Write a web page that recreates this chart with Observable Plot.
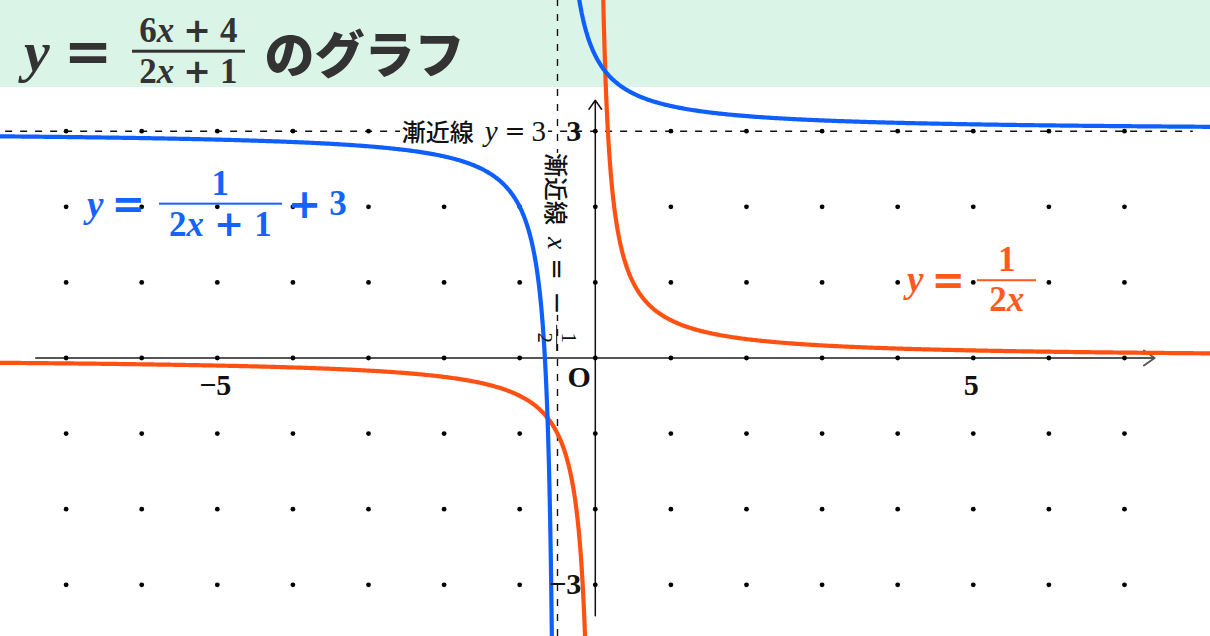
<!DOCTYPE html>
<html>
<head>
<meta charset="utf-8">
<script src="https://cdn.jsdelivr.net/npm/d3@7"></script>
<script src="https://cdn.jsdelivr.net/npm/@observablehq/plot@0.6"></script>
<style>
  html, body { margin: 0; padding: 0; background: #fff; }
  #wrap { position: relative; width: 1210px; height: 636px; overflow: hidden; }
  #band { position: absolute; left: 0; top: 0; width: 1210px; height: 87px; background: #dbf4e8; }
  #chart { position: absolute; left: 0; top: 0; }
  .lbl { position: absolute; display: flex; align-items: center; white-space: nowrap; }
  .m { font-family: "Liberation Serif", "DejaVu Serif", serif; font-weight: bold; }
  .it { font-style: italic; }
  .op { font-family: "DejaVu Sans", sans-serif; }
  .frac { display: inline-flex; flex-direction: column; text-align: center; }
  .frac > span { padding: 0 5px; line-height: 1.08; }
  .frac > .num { border-bottom: 2.6px solid currentColor; }
  .jp { font-family: "Noto Sans CJK JP", "Noto Sans", sans-serif; }
  .bg { background: #fff; }
</style>
</head>
<body>
<div id="wrap">
  <div id="band"></div>
  <div id="chart"></div>

  <div class="lbl m" id="title" style="left:24px; top:51px; transform:translateY(-50%); color:#333;">
    <span class="it" style="font-size:58px;">y</span>
    <span class="op" style="font-size:58px; margin:0 20px 0 14px;">=</span>
    <span class="frac" style="font-size:35px;"><span class="num" style="border-bottom-width:3px; padding:0 7px;">6<i>x</i><span class="op" style="font-size:33px; margin:0 9px;">+</span>4</span><span class="den" style="padding:0 7px;">2<i>x</i><span class="op" style="font-size:33px; margin:0 9px;">+</span>1</span></span>
    <span class="jp" style="font-size:50px; font-weight:900; margin-left:20px;">のグラフ</span>
  </div>

  <div class="lbl m" id="blueLbl" style="left:87px; top:204px; transform:translateY(-50%); color:#1463ff;">
    <span class="it" style="font-size:37px;">y</span>
    <span class="op" style="font-size:40px; margin:0 14px 0 8px;">=</span>
    <span class="frac" style="font-size:35px;"><span class="num">1</span><span class="den" style="padding:0 10px;">2<i>x</i><span class="op" style="font-size:36px; margin:0 10px;">+</span>1</span></span>
    <span class="op" style="font-size:40px; margin-left:6px;">+</span>
    <span style="font-size:35px; margin-left:8px;">3</span>
  </div>

  <div class="lbl m" id="orangeLbl" style="left:907px; top:280px; transform:translateY(-50%); color:#ff5a1e;">
    <span class="it" style="font-size:37px;">y</span>
    <span class="op" style="font-size:40px; margin:0 12px 0 8px;">=</span>
    <span class="frac" style="font-size:35px;"><span class="num" style="padding:0 21px;">1</span><span class="den" style="padding:0 9px;">2<i>x</i></span></span>
  </div>

  <div class="lbl bg" id="hAsym" style="right:662px; top:131px; transform:translateY(-50%); color:#111; padding:0 2px; line-height:24px;">
    <span class="jp" style="font-size:24px; font-weight:500;">漸近線</span>
    <span class="m it" style="font-size:29px; font-weight:normal; margin-left:11px;">y</span>
    <span class="op" style="font-size:25px; margin-left:7px;">=</span>
    <span class="m" style="font-size:29px; font-weight:normal; margin-left:6px;">3</span>
  </div>

  <div class="lbl" id="vAsym" style="left:557px; top:252px; transform:translate(-50%,-50%) rotate(90deg); color:#111; line-height:24px;">
    <span class="jp bg" style="font-size:24px; font-weight:500;">漸近線</span>
    <span class="m it bg" style="font-size:28px; font-weight:normal; padding-left:12px;">x</span>
    <span class="op bg" style="font-size:26px; padding-left:9px;">=</span>
    <span class="op bg" style="font-size:28px; padding-left:11px;">−</span>
    <span class="frac m" style="font-size:21px; font-weight:normal; margin-left:10px;"><span class="num" style="border-bottom-width:1.5px; padding:0 8px;">1</span><span class="den" style="padding:0 8px;">2</span></span>
  </div>
</div>

<script>
// ---- data ----
const gridX = [-7, -6, -5, -4, -3, -2, -1, 0, 1, 2, 3, 4, 5, 6, 7];
const gridY = [-3, -2, -1, 0, 1, 2, 3];
const xTickValues = [-5, 5];
const xTickLabels = ["−5", "5"];
const yTickValues = [3, -3];
const yTickLabels = ["3", "−3"];
const originLabel = ["O"];
const hAsymptote = [3];      // y = 3
const vAsymptote = [-0.5];   // x = -1/2
// y = 1/(2x+1) + 3   and   y = 1/(2x)
const blueCoef = [2, 1, 3];    // 1/(a x + b) + c
const orangeCoef = [2, 0, 0];  // 1/(a x + b) + c

const xDomain = [-7.868, 8.138];
const yDomain = [-3.684, 4.729];
const axisExtent = 7.4;
const yAxisExtent = 3.41;

// ---- curve sampling (the graphed functions) ----
function hyperbola([a, b, c], name) {
  const pole = -b / a;
  const pts = [];
  const leftXs = d3.range(xDomain[0], pole - 0.3, 0.02).concat(d3.range(pole - 0.3, pole - 0.004, 0.0008));
  for (const x of leftXs) { const y = 1 / (a * x + b) + c; if (Math.abs(y) < 40) pts.push({x, y, branch: name + "L"}); }
  const rightXs = d3.range(pole + 0.004, pole + 0.3, 0.0008).concat(d3.range(pole + 0.3, xDomain[1] + 0.05, 0.02));
  for (const x of rightXs) { const y = 1 / (a * x + b) + c; if (Math.abs(y) < 40) pts.push({x, y, branch: name + "R"}); }
  return pts;
}
const bluePts = hyperbola(blueCoef, "blue");
const orangePts = hyperbola(orangeCoef, "orange");

const gridPts = gridX.flatMap(x => gridY.map(y => ({x, y})));

const chart = Plot.plot({
  width: 1210,
  height: 636,
  margin: 0,
  style: { background: "transparent", overflow: "visible" },
  x: { domain: xDomain, axis: null },
  y: { domain: yDomain, axis: null },
  marks: [
    Plot.ruleY(hAsymptote, { x1: -7.8, x2: 7.91, stroke: "#111", strokeWidth: 1.4, strokeDasharray: "7,8" }),
    Plot.ruleX(vAsymptote, { y1: yDomain[0], y2: yDomain[1], stroke: "#111", strokeWidth: 1.4, strokeDasharray: "7,8" }),
    Plot.arrow([0], { x1: -axisExtent, x2: axisExtent, y1: 0, y2: 0, stroke: "#555", strokeWidth: 1.8, headLength: 11, headAngle: 70 }),
    Plot.arrow([0], { x1: 0, x2: 0, y1: -yAxisExtent, y2: yAxisExtent, stroke: "#111", strokeWidth: 1.5, headLength: 11, headAngle: 70 }),
    Plot.dot(gridPts, { x: "x", y: "y", r: 2.4, fill: "#000", stroke: null }),
    Plot.line(orangePts, { x: "x", y: "y", z: "branch", stroke: "#ff5212", strokeWidth: 4.2, clip: true }),
    Plot.line(bluePts, { x: "x", y: "y", z: "branch", stroke: "#0f5fff", strokeWidth: 4.2, clip: true }),
    Plot.text(xTickValues, { x: d => d, y: 0, text: (d, i) => xTickLabels[i], dy: 27, dx: -2, fontSize: 30, fontWeight: "bold", fontFamily: "Liberation Serif, serif", fill: "#111" }),
    Plot.text(yTickValues, { x: 0, y: d => d, text: (d, i) => yTickLabels[i], dx: -14, textAnchor: "end", fontSize: 30, fontWeight: "bold", fontFamily: "Liberation Serif, serif", fill: "#111" }),
    Plot.text(originLabel, { x: 0, y: 0, text: d => d, dx: -16, dy: 19, fontSize: 30, fontWeight: "bold", fontFamily: "Liberation Serif, serif", fill: "#111" })
  ]
});
document.getElementById("chart").appendChild(chart);
</script>
</body>
</html>
